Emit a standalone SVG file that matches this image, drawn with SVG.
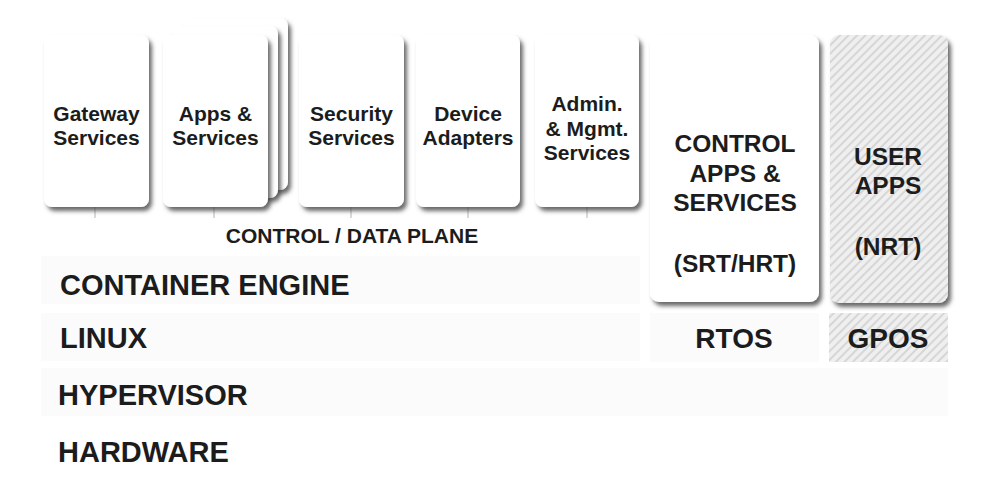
<svg xmlns="http://www.w3.org/2000/svg" width="992" height="502" viewBox="0 0 992 502">
<defs>
  <filter id="sh" x="-20%" y="-20%" width="140%" height="140%">
    <feDropShadow dx="3" dy="4" stdDeviation="2.2" flood-color="#444" flood-opacity="0.8"/>
  </filter>
  <pattern id="hatch" width="6" height="6" patternUnits="userSpaceOnUse" patternTransform="rotate(45)">
    <rect width="6" height="6" fill="#efefef"/>
    <rect width="2" height="6" fill="#d6d6d6"/>
  </pattern>
  <style>
    text { font-family: "Liberation Sans", Arial, sans-serif; font-weight: bold; fill: #1c1c1c; }
    .card { fill: #ffffff; filter: url(#sh); }
    .hcard { fill: url(#hatch); filter: url(#sh); }
    .band { fill: #fbfbfb; }
    .lbl { font-size: 21px; text-anchor: middle; }
    .big { font-size: 24.5px; text-anchor: middle; }
    .layer { font-size: 29px; }
    .os { font-size: 28px; text-anchor: middle; }
    .tick { stroke: #b5b5b5; stroke-width: 1; }
    .tickw { stroke: #ffffff; stroke-width: 3; }
  </style>
</defs>
<rect width="992" height="502" fill="#ffffff"/>

<g id="layers">
  <g id="container-engine"><rect class="band" x="41" y="256" width="599" height="48"/>
    <text class="layer" x="60" y="295">CONTAINER ENGINE</text></g>
  <g id="linux"><rect class="band" x="41" y="313" width="599" height="48"/>
    <text class="layer" x="60" y="348">LINUX</text></g>
  <g id="rtos"><rect class="band" x="650" y="313" width="169" height="49"/>
    <text class="os" x="734" y="348">RTOS</text></g>
  <g id="gpos"><rect x="829" y="313" width="119" height="49" fill="url(#hatch)"/>
    <text class="os" x="888" y="348">GPOS</text></g>
  <g id="hypervisor"><rect class="band" x="41" y="368" width="907" height="48"/>
    <text class="layer" x="58" y="405">HYPERVISOR</text></g>
  <g id="hardware"><text class="layer" x="58" y="462">HARDWARE</text></g>
</g>

<g id="connectors">
  <line class="tickw" x1="97" y1="206" x2="97" y2="218"/><line class="tick" x1="95" y1="206" x2="95" y2="218"/>
  <line class="tickw" x1="216" y1="206" x2="216" y2="218"/><line class="tick" x1="214" y1="206" x2="214" y2="218"/>
  <line class="tickw" x1="353" y1="206" x2="353" y2="218"/><line class="tick" x1="351" y1="206" x2="351" y2="218"/>
  <line class="tickw" x1="470" y1="206" x2="470" y2="218"/><line class="tick" x1="468" y1="206" x2="468" y2="218"/>
  <line class="tickw" x1="589" y1="206" x2="589" y2="218"/><line class="tick" x1="587" y1="206" x2="587" y2="218"/>
</g>

<g id="gateway-services">
  <rect class="card" x="44" y="35" width="105" height="172" rx="8"/>
  <text class="lbl" x="96.5" y="121">Gateway</text>
  <text class="lbl" x="96.5" y="145">Services</text>
</g>
<g id="apps-services">
  <rect class="card" x="183" y="18" width="105" height="172" rx="8"/>
  <rect class="card" x="173" y="26" width="105" height="172" rx="8"/>
  <rect class="card" x="163" y="35" width="105" height="172" rx="8"/>
  <text class="lbl" x="215.5" y="121">Apps &amp;</text>
  <text class="lbl" x="215.5" y="145">Services</text>
</g>
<g id="security-services">
  <rect class="card" x="299" y="35" width="105" height="172" rx="8"/>
  <text class="lbl" x="351.5" y="121">Security</text>
  <text class="lbl" x="351.5" y="145">Services</text>
</g>
<g id="device-adapters">
  <rect class="card" x="416" y="35" width="104" height="172" rx="8"/>
  <text class="lbl" x="468" y="121">Device</text>
  <text class="lbl" x="468" y="145">Adapters</text>
</g>
<g id="admin-mgmt-services">
  <rect class="card" x="535" y="35" width="104" height="172" rx="8"/>
  <text class="lbl" x="587" y="111">Admin.</text>
  <text class="lbl" x="587" y="136">&amp; Mgmt.</text>
  <text class="lbl" x="587" y="160">Services</text>
</g>
<g id="control-data-plane">
  <text class="lbl" x="352" y="243">CONTROL / DATA PLANE</text>
</g>
<g id="control-apps-services">
  <rect class="card" x="650" y="35" width="169" height="267" rx="9"/>
  <text class="big" x="735" y="152">CONTROL</text>
  <text class="big" x="735" y="182">APPS &amp;</text>
  <text class="big" x="735" y="211">SERVICES</text>
  <text class="big" x="735" y="272">(SRT/HRT)</text>
</g>
<g id="user-apps">
  <rect class="hcard" x="830" y="35" width="118" height="268" rx="9"/>
  <text class="big" x="888" y="165">USER</text>
  <text class="big" x="888" y="194">APPS</text>
  <text class="big" x="888" y="255">(NRT)</text>
</g>
</svg>
